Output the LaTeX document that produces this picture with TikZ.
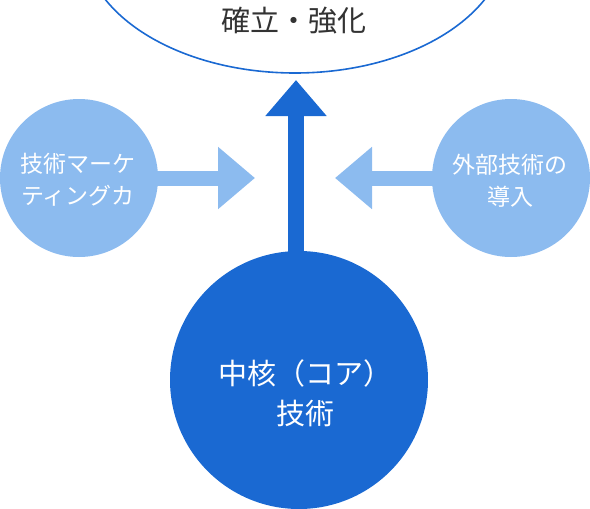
\documentclass[tikz,border=0pt]{standalone}
\usepackage{fontspec}
\setmainfont{Noto Sans CJK JP}
\usetikzlibrary{shapes.geometric,arrows.meta,backgrounds}
\definecolor{darkblue}{HTML}{1A69D2}
\definecolor{lightblue}{HTML}{8CBBEF}
\definecolor{textgray}{HTML}{333333}
\tikzset{
  x=1pt, y=-1pt,
  bigcirc/.style={circle, fill=darkblue, draw=none, minimum size=258pt, inner sep=0pt},
  smallcirc/.style={circle, fill=lightblue, draw=none, minimum size=158pt, inner sep=0pt},
  goalshape/.style={ellipse, draw=darkblue, line width=1.6pt, fill=white, minimum width=424pt, minimum height=266pt, inner sep=0pt},
  whitetext/.style={text=white, align=center, inner sep=0pt},
  mainarrow/.style={darkblue, line width=16pt, -{Triangle[width=59pt,length=36pt]}},
  sidearrow/.style={lightblue, line width=15pt, -{Triangle[width=60pt,length=37pt]}},
}
\begin{document}
\begin{tikzpicture}
\useasboundingbox (0,0) rectangle (590,509);
% shapes
\node[goalshape] (goal) at (295,-60) {};
\node[text=textgray, inner sep=0pt, font=\fontsize{29}{36}\selectfont] (goaltext) at (294,21) {確立・強化};
\node[bigcirc] (core) at (299,380) {};
\node[whitetext, font=\fontsize{29}{40}\selectfont] (coretext) at (305.5,393.5) {中核（コア）\\技術};
\node[smallcirc] (mkt) at (79,178) {};
\node[whitetext, font=\fontsize{23}{32}\selectfont] (mkttext) at (78,180) {技術マーケ\\ティングカ};
\node[smallcirc] (ext) at (511,178) {};
\node[whitetext, font=\fontsize{23}{32}\selectfont] (exttext) at (510,181) {外部技術の\\導入};
% arrow tips
\coordinate (tipA) at (296,80);
\coordinate (tipL) at (255,178);
\coordinate (tipR) at (335,178);
\begin{scope}[on background layer]
  \draw[mainarrow] (core.center -| tipA) -- (tipA);
  \draw[sidearrow] (mkt.center) -- (tipL);
  \draw[sidearrow] (ext.center) -- (tipR);
\end{scope}
\end{tikzpicture}
\end{document}
